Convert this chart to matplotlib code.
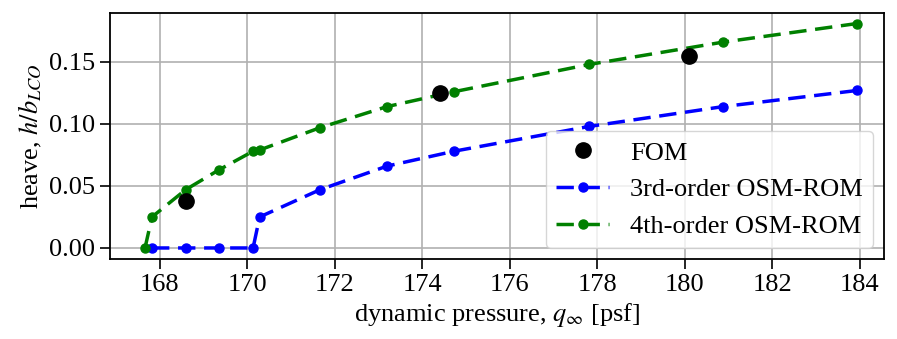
import matplotlib
matplotlib.use("Agg")
import matplotlib.pyplot as plt

plt.rcParams['font.family'] = ['Liberation Serif', 'DejaVu Serif']
plt.rcParams['mathtext.fontset'] = 'stix'

q4 = [167.66, 167.82, 168.59, 169.35, 170.13, 170.28, 171.66, 173.19, 174.72, 177.81, 180.87, 183.93]
h4 = [0.0, 0.025, 0.047, 0.063, 0.078, 0.079, 0.097, 0.114, 0.126, 0.148, 0.166, 0.181]

q3 = [167.82, 168.59, 169.35, 170.13, 170.28, 171.66, 173.19, 174.72, 177.81, 180.87, 183.93]
h3 = [0.0, 0.0, 0.0, 0.0, 0.025, 0.047, 0.066, 0.078, 0.098, 0.114, 0.127]

qf = [168.6, 174.4, 180.1]
hf = [0.038, 0.125, 0.155]

fig = plt.figure(figsize=(8.97, 3.39), dpi=100)
ax = fig.add_axes([110/897, 1-259/339, (884-110)/897, (259-13)/339])

ax.plot(qf, hf, 'o', color='black', markersize=11, label='FOM', zorder=3)
ax.plot(q3, h3, '--', color='blue', marker='o', markersize=6.5, lw=2.5, dashes=(5, 2.5), label='3rd-order OSM-ROM')
ax.plot(q4, h4, '--', color='green', marker='o', markersize=6.5, lw=2.5, dashes=(5, 2.5), label='4th-order OSM-ROM')

ax.set_xlim(166.86, 184.55)
ax.set_ylim(-0.0089, 0.1895)
ax.set_xticks([168, 170, 172, 174, 176, 178, 180, 182, 184])
ax.set_yticks([0.0, 0.05, 0.10, 0.15])
ax.set_yticklabels(['0.00', '0.05', '0.10', '0.15'])
ax.grid(True, color='#b0b0b0', lw=1.2)
ax.set_axisbelow(True)
ax.tick_params(labelsize=19, length=7, width=1.2)
for s in ax.spines.values():
    s.set_linewidth(1.3)
ax.set_xlabel(r'dynamic pressure, $q_\infty$ [psf]', fontsize=19)
ax.set_ylabel(r'heave, $h/b_{LCO}$', fontsize=19)
ax.legend(loc='lower right', fontsize=19, framealpha=0.8, handlelength=2.0,
          borderaxespad=0.4)

fig.savefig('out.png', dpi=100)
